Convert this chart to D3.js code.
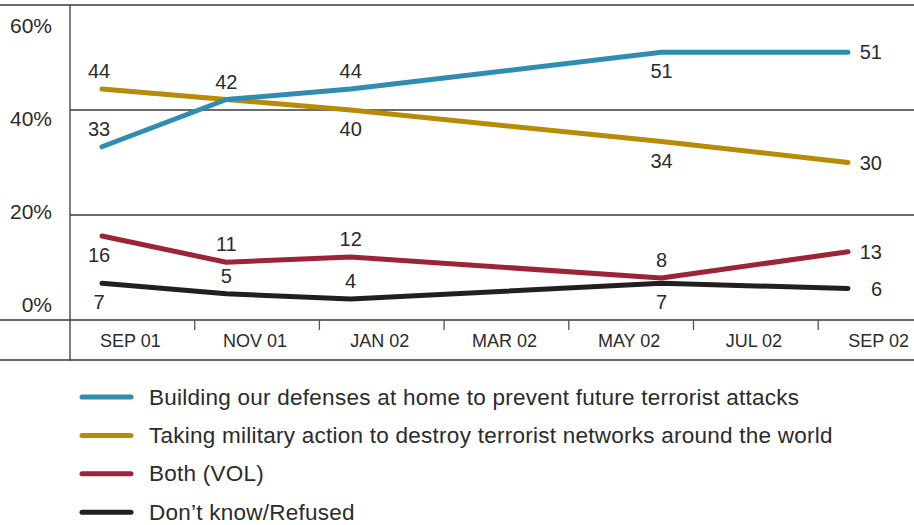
<!DOCTYPE html>
<html>
<head>
<meta charset="utf-8">
<script src="https://cdn.jsdelivr.net/npm/d3@7"></script>
<style>
  body { margin: 0; background: #fff; }
  text { font-family: "Liberation Sans", Arial, sans-serif; fill: #2b2b2b; }
</style>
</head>
<body>
<div id="chart"></div>
<script>
// months since Sep 2001 for each survey
const months = [0, 2, 4, 9, 12];
const defenses = [33, 42, 44, 51, 51];
const military = [44, 42, 40, 34, 30];
const both = [16, 11, 12, 8, 13];
const dontKnow = [7, 5, 4, 7, 6];

// where each value label sits relative to its point
const defensesLab = ["above", "above", "above", "below", "right"];
const militaryLab = ["above", null, "below", "below", "right"];
const bothLab = ["below", "above", "above", "above", "right"];
const dontKnowLab = ["below", "above", "above", "below", "right"];

const axisLabels = ["SEP 01", "NOV 01", "JAN 02", "MAR 02", "MAY 02", "JUL 02", "SEP 02"];
const yTicks = [0, 20, 40, 60];
const seriesNames = [
  "Building our defenses at home to prevent future terrorist attacks",
  "Taking military action to destroy terrorist networks around the world",
  "Both (VOL)",
  "Don\u2019t know/Refused"
];
const colors = ["#2f8db2", "#b78b05", "#9c2436", "#231f20"];

const width = 914, height = 525;
const left = 70;

const svg = d3.select("#chart").append("svg")
    .attr("width", width)
    .attr("height", height);

const x = d3.scaleLinear().domain([0, 12]).range([102, 848]);
const y = d3.scaleLinear().domain([0, 60]).range([320, 5]);
const labelY = d3.scaleLinear().domain([0, 60]).range([312, 33]);
const band = d3.scaleBand().domain(axisLabels).range([left, left + 7 * 124.7]);

// GRID
svg.append("line")
    .attr("x1", 0).attr("x2", width)
    .attr("y1", y(60)).attr("y2", y(60))
    .attr("stroke", "#6b6b6b").attr("stroke-width", 2);

svg.selectAll(".grid")
    .data([20, 40])
    .enter().append("line")
    .attr("x1", left).attr("x2", width)
    .attr("y1", d => y(d)).attr("y2", d => y(d))
    .attr("stroke", "#3a3a3a").attr("stroke-width", 1.3);

svg.append("line")
    .attr("x1", 0).attr("x2", width)
    .attr("y1", y(0)).attr("y2", y(0))
    .attr("stroke", "#3a3a3a").attr("stroke-width", 1.5);

svg.append("line")
    .attr("x1", 0).attr("x2", width)
    .attr("y1", 360).attr("y2", 360)
    .attr("stroke", "#6b6b6b").attr("stroke-width", 2);

svg.append("line")
    .attr("x1", left).attr("x2", left)
    .attr("y1", y(60)).attr("y2", 361)
    .attr("stroke", "#3a3a3a").attr("stroke-width", 1.3);

// y tick labels
svg.selectAll(".ytick")
    .data(yTicks)
    .enter().append("text")
    .attr("x", 52)
    .attr("y", d => labelY(d))
    .attr("text-anchor", "end")
    .attr("font-size", 21)
    .text(d => d + "%");

// x ticks + labels
svg.selectAll(".xtick")
    .data(axisLabels.slice(1))
    .enter().append("line")
    .attr("x1", d => band(d)).attr("x2", d => band(d))
    .attr("y1", y(0)).attr("y2", y(0) + 10)
    .attr("stroke", "#555").attr("stroke-width", 1.3);

svg.selectAll(".xlab")
    .data(axisLabels)
    .enter().append("text")
    .attr("x", d => band(d) + band.bandwidth() / 2 - 2)
    .attr("y", 346.5)
    .attr("text-anchor", "middle")
    .attr("font-size", 18)
    .text(d => d);

// LINES
const series = [
  {values: defenses, pos: defensesLab},
  {values: military, pos: militaryLab},
  {values: both, pos: bothLab},
  {values: dontKnow, pos: dontKnowLab}
];

const line = d3.line()
    .x((d, i) => x(months[i]))
    .y(d => y(d));

// draw bottom series first so blue sits on top
[3, 2, 1, 0].forEach(k => {
  svg.append("path")
      .datum(series[k].values)
      .attr("d", line)
      .attr("fill", "none")
      .attr("stroke", colors[k])
      .attr("stroke-width", 5)
      .attr("stroke-linecap", "round")
      .attr("stroke-linejoin", "round");
});

// value labels
series.forEach(s => {
  svg.append("g").selectAll("text")
      .data(s.values.map((v, i) => ({v: v, i: i, pos: s.pos[i]})).filter(d => d.pos))
      .enter().append("text")
      .attr("font-size", 20)
      .attr("text-anchor", d => d.pos === "right" ? "end" : "middle")
      .attr("x", d => d.pos === "right" ? x(months[d.i]) + 34 : x(months[d.i]) - (d.i === 0 ? 3 : 0))
      .attr("y", d => {
        const py = y(d.v);
        if (d.pos === "above") return py - 11;
        if (d.pos === "below") return py + 26;
        return py + 7;
      })
      .text(d => d.v);
});

// LEGEND
const legend = svg.append("g")
    .selectAll("g")
    .data(seriesNames)
    .enter().append("g")
    .attr("transform", (d, i) => `translate(0, ${397 + i * 38.4})`);

legend.append("line")
    .attr("x1", 82).attr("x2", 131)
    .attr("y1", 0).attr("y2", 0)
    .attr("stroke", (d, i) => colors[i])
    .attr("stroke-width", 5)
    .attr("stroke-linecap", "round");

legend.append("text")
    .attr("x", 149)
    .attr("y", 7.5)
    .attr("font-size", 22.5)
    .attr("letter-spacing", 0.25)
    .text(d => d);
</script>
</body>
</html>
